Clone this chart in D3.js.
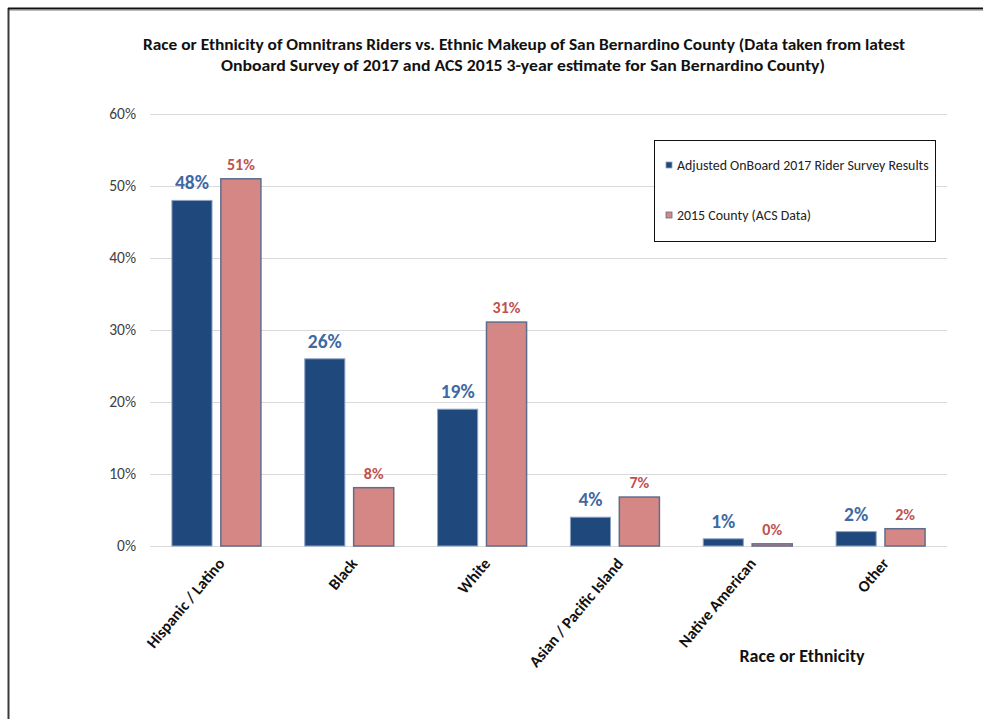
<!DOCTYPE html>
<html>
<head>
<meta charset="utf-8">
<script src="https://cdn.jsdelivr.net/npm/d3@7"></script>
<style>
  html, body { margin: 0; padding: 0; background: #fff; }
  svg { display: block; font-family: Carlito, Lato, "Open Sans", sans-serif; }
</style>
</head>
<body>
<svg id="chart" width="983" height="719"></svg>
<script>
// ---- data ----
const categories = ["Hispanic / Latino", "Black", "White", "Asian / Pacific Island", "Native American", "Other"];
const seriesNames = ["Adjusted OnBoard 2017 Rider Survey Results", "2015 County (ACS Data)"];
const riderValues = [0.48, 0.26, 0.19, 0.04, 0.01, 0.02];
const countyValues = [0.51, 0.081, 0.311, 0.068, 0.003, 0.024];
const yTicks = [0, 0.1, 0.2, 0.3, 0.4, 0.5, 0.6];
const titleLines = [
  "Race or Ethnicity of Omnitrans Riders vs. Ethnic Makeup of San Bernardino County (Data taken from latest",
  "Onboard Survey of 2017 and ACS 2015 3-year estimate for San Bernardino County)"
];
const xAxisTitle = "Race or Ethnicity";

// ---- styles ----
const colors = ["#1f497d", "#d58785"];
const strokes = ["#8ea3c4", "#5f6d8c"];
const labelColors = ["#3f69a3", "#c0504d"];

const svg = d3.select("#chart");

// frame
svg.append("line").attr("x1", 8).attr("x2", 983).attr("y1", 10.5).attr("y2", 10.5).attr("stroke", "#bbb").attr("stroke-width", 1);
svg.append("line").attr("x1", 8.5).attr("x2", 8.5).attr("y1", 8).attr("y2", 719).attr("stroke", "#3a3a3a").attr("stroke-width", 2);
svg.append("line").attr("x1", 8).attr("x2", 983).attr("y1", 8.5).attr("y2", 8.5).attr("stroke", "#111").attr("stroke-width", 2);

// title
const titleWidths = [762, 604];
const titleCenters = [524, 523];
titleLines.forEach((t, i) => {
  svg.append("text")
    .attr("x", titleCenters[i]).attr("y", 50 + i * 21)
    .attr("text-anchor", "middle")
    .attr("font-size", 15).attr("font-weight", "bold").attr("fill", "#111")
    .attr("textLength", titleWidths[i]).attr("lengthAdjust", "spacingAndGlyphs")
    .text(t);
});

// scales
const x0 = d3.scaleBand().domain(categories).range([150, 947]).paddingInner(0.33).paddingOuter(0.165);
const x1 = d3.scaleBand().domain([0, 1]).range([0, x0.bandwidth()]).paddingInner(0.18);
const y = d3.scaleLinear().domain([0, 0.6]).range([546, 114]);

// gridlines
svg.append("g").selectAll("line").data(yTicks).join("line")
  .attr("x1", 150).attr("x2", 947)
  .attr("y1", d => Math.round(y(d)) + 0.5).attr("y2", d => Math.round(y(d)) + 0.5)
  .attr("stroke", "#d9d9d9").attr("stroke-width", 1.2);

// y axis labels
const yAxis = d3.axisLeft(y).tickValues(yTicks).tickFormat(d3.format(".0%")).tickSize(0).tickPadding(14);
const yg = svg.append("g").attr("transform", "translate(150,0)").call(yAxis);
yg.select(".domain").remove();
yg.selectAll("text").attr("font-size", 15.5).attr("fill", "#404040").attr("font-family", "Carlito, Lato, sans-serif");

// bars
const series = [riderValues, countyValues];
series.forEach((vals, s) => {
  const g = svg.append("g");
  g.selectAll("rect").data(categories).join("rect")
    .attr("x", c => x0(c) + x1(s))
    .attr("y", (c, i) => y(vals[i]))
    .attr("width", x1.bandwidth())
    .attr("height", (c, i) => y(0) - y(vals[i]))
    .attr("fill", colors[s])
    .attr("stroke", strokes[s]).attr("stroke-width", s === 1 ? 1.5 : 1);
  g.selectAll("text").data(categories).join("text")
    .attr("x", c => x0(c) + x1(s) + x1.bandwidth() / 2)
    .attr("y", (c, i) => y(vals[i]) - (s === 0 ? 11 : 9))
    .attr("text-anchor", "middle")
    .attr("font-weight", "bold")
    .attr("font-size", s === 0 ? 19.5 : 16)
    .attr("fill", labelColors[s])
    .text((c, i) => Math.round(vals[i] * 100) + "%");
});

// x axis labels (rotated)
const xAxis = d3.axisBottom(x0).tickSize(0).tickPadding(0);
const xg = svg.append("g").attr("transform", "translate(0,546)").call(xAxis);
xg.select(".domain").remove();
xg.selectAll("text")
  .attr("font-size", 16).attr("font-weight", "bold").attr("fill", "#111")
  .attr("font-family", "Carlito, Lato, sans-serif")
  .attr("text-anchor", "end")
  .attr("dy", null).attr("y", 0)
  .attr("transform", "translate(9,18) rotate(-50)");

// x axis title
svg.append("text").attr("x", 802).attr("y", 662).attr("text-anchor", "middle")
  .attr("font-size", 18).attr("font-weight", "bold").attr("fill", "#111").text(xAxisTitle);

// legend
const lg = svg.append("g");
lg.append("rect").attr("x", 654.5).attr("y", 140.5).attr("width", 281).attr("height", 101)
  .attr("fill", "#fff").attr("stroke", "#111").attr("stroke-width", 1);
seriesNames.forEach((n, i) => {
  const cy = 165 + i * 50;
  lg.append("rect").attr("x", 666).attr("y", cy - 3).attr("width", 6).attr("height", 6)
    .attr("fill", colors[i]).attr("stroke", strokes[i]).attr("stroke-width", 0.8);
  lg.append("text").attr("x", 677).attr("y", cy + 4.5)
    .attr("font-size", 13.9).attr("fill", "#222").text(n);
});
</script>
</body>
</html>
